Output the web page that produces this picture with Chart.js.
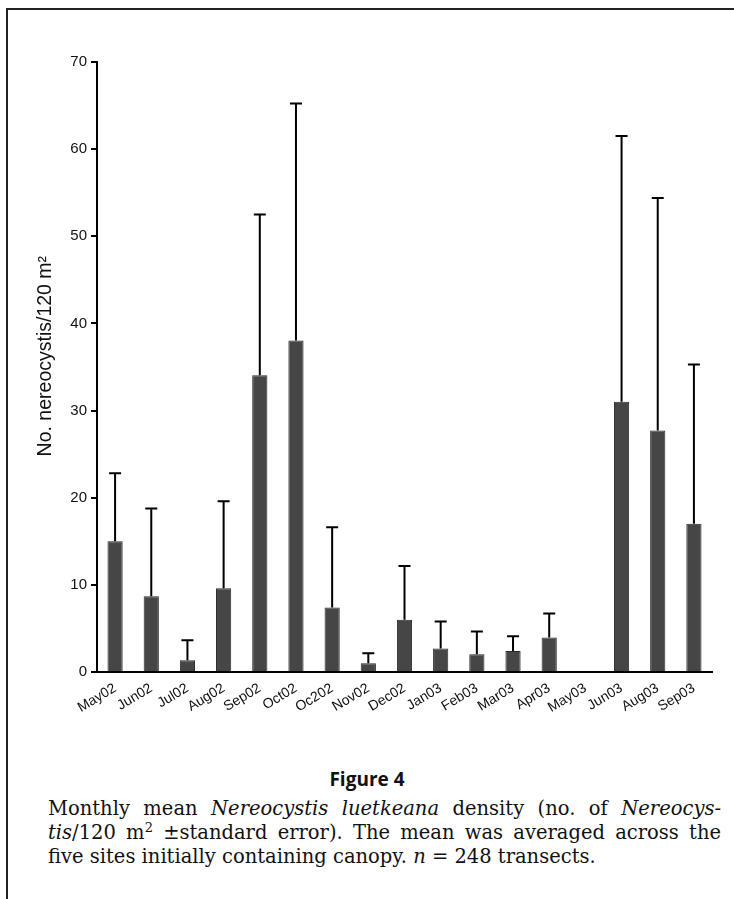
<!DOCTYPE html>
<html>
<head>
<meta charset="utf-8">
<script src="https://cdn.jsdelivr.net/npm/chart.js@4.4.1/dist/chart.umd.min.js"></script>
<style>
  body { margin: 0; background: #fff; }
  #frame {
    position: absolute; left: 6px; top: 8px; width: 740px; height: 900px;
    border-left: 2px solid #222; border-top: 2px solid #222;
  }
  #wrap { position: absolute; left: 0; top: 0; width: 734px; height: 760px; }
  #fig {
    position: absolute; left: 0; width: 734px; top: 766px;
    text-align: center; font: bold 19px "Open Sans", sans-serif; color: #111;
  }
  #cap {
    position: absolute; left: 48px; width: 673px; top: 797px;
    font: 19.5px "DejaVu Serif", serif; line-height: 24px; color: #111;
  }
  #cap div { text-align: justify; text-align-last: justify; white-space: nowrap; }
  #cap div.last { text-align-last: left; }
</style>
</head>
<body>
<div id="frame"></div>
<div id="wrap"><canvas id="myChart"></canvas></div>
<div id="fig">Figure 4</div>
<div id="cap">
  <div>Monthly mean <i>Nereocystis luetkeana</i> density (no. of <i>Nereocys-</i></div>
  <div><i>tis</i>/120 m<sup style="font-size:13px;line-height:0">2</sup> ±standard error). The mean was averaged across the</div>
  <div class="last">five sites initially containing canopy. <i>n</i> = 248 transects.</div>
</div>
<script>
const months = ['May02', 'Jun02', 'Jul02', 'Aug02', 'Sep02', 'Oct02', 'Oc202', 'Nov02', 'Dec02',
    'Jan03', 'Feb03', 'Mar03', 'Apr03', 'May03', 'Jun03', 'Aug03', 'Sep03'];
const meanDensity = [15.0, 8.7, 1.35, 9.6, 34.05, 38.05, 7.4, 1.0, 6.0,
    2.7, 2.05, 2.4, 3.95, null, 31.0, 27.7, 17.0];
const stdError = [7.8, 10.05, 2.3, 10.0, 18.45, 27.2, 9.2, 1.15, 6.15,
    3.1, 2.6, 1.7, 2.75, null, 30.5, 26.7, 18.3];
const yTicks = [0, 10, 20, 30, 40, 50, 60, 70];

// draws the upper half of the error bars on top of the bars
const errorBars = {
    id: 'errorBars',
    afterDatasetsDraw(chart) {
        const ctx = chart.ctx;
        const yScale = chart.scales.y;
        const meta = chart.getDatasetMeta(0);
        ctx.save();
        ctx.strokeStyle = '#000';
        ctx.lineWidth = 2;
        meta.data.forEach((bar, i) => {
            if (meanDensity[i] == null || stdError[i] == null) return;
            const y0 = yScale.getPixelForValue(meanDensity[i]);
            const y1 = yScale.getPixelForValue(meanDensity[i] + stdError[i]);
            ctx.beginPath();
            ctx.moveTo(bar.x, y0);
            ctx.lineTo(bar.x, y1);
            ctx.moveTo(bar.x - 6, y1);
            ctx.lineTo(bar.x + 6, y1);
            ctx.stroke();
        });
        ctx.restore();
    }
};

const ctx = document.getElementById('myChart').getContext('2d');
const myChart = new Chart(ctx, {
    type: 'bar',
    data: {
        labels: months,
        datasets: [{
            data: meanDensity,
            backgroundColor: '#464646',
            borderColor: '#2a2a2a',
            borderWidth: 1,
            categoryPercentage: 1,
            barPercentage: 0.42
        }]
    },
    options: {
        responsive: true,
        maintainAspectRatio: false,
        animation: false,
        layout: { padding: { top: 62, right: 22, left: 0, bottom: 0 } },
        plugins: { legend: { display: false }, tooltip: { enabled: false } },
        scales: {
            x: {
                grid: { drawOnChartArea: false, drawTicks: false },
                border: { color: '#000', width: 2 },
                ticks: {
                    autoSkip: false, minRotation: 31, maxRotation: 31, padding: 8,
                    color: '#111', font: { family: 'Liberation Sans', size: 14 }
                },
                afterFit(scale) { scale.height = 88; }
            },
            y: {
                min: 0,
                max: 70,
                afterBuildTicks(scale) { scale.ticks = yTicks.map(v => ({ value: v })); },
                grid: { drawOnChartArea: false, drawTicks: true, tickLength: 6, color: '#000', lineWidth: 2 },
                border: { color: '#000', width: 2 },
                ticks: { padding: 4, color: '#111', font: { family: 'Liberation Sans', size: 15 } },
                title: {
                    display: true,
                    text: '\u00a0\u00a0\u00a0\u00a0No. nereocystis/120 m²',
                    color: '#111',
                    font: { family: 'Liberation Sans', size: 19.5 },
                    padding: { top: 34, bottom: 0 }
                },
                afterFit(scale) { scale.width = 97; }
            }
        }
    },
    plugins: [errorBars]
});
</script>
</body>
</html>
